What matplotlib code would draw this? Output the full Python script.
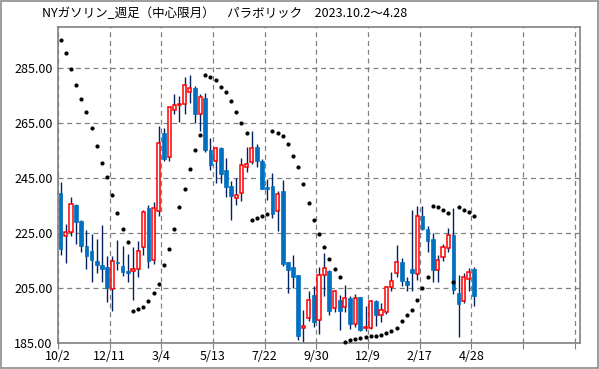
import numpy as np
import matplotlib
matplotlib.use("Agg")
import matplotlib.pyplot as plt
from matplotlib.patches import Rectangle

plt.rcParams['font.family'] = ['Noto Sans CJK JP', 'DejaVu Sans']

title = "NYガソリン_週足（中心限月）　パラボリック　2023.10.2～4.28"

# weekly OHLC
opens = [239.5, 223.9, 225.4, 235.3, 229.5, 220.4, 218.6, 214.9, 213.5, 212.6,
         204.6, 214.6, 213.1, 211.1, 211.1, 212.0, 219.9, 234.2, 215.2, 233.2,
         261.6, 252.6, 269.7, 271.5, 271.9, 276.3, 277.8, 268.3, 274.1, 255.3,
         251.1, 255.9, 247.9, 242.2, 237.7, 239.5, 249.0, 250.8, 256.4, 251.3,
         241.8, 242.1, 232.9, 240.2, 214.3, 212.8, 209.6, 190.5, 194.1, 202.3,
         193.2, 209.6, 211.3, 197.7, 200.8, 198.1, 201.4, 191.9, 201.6, 190.3,
         190.5, 200.2, 195.1, 196.3, 205.4, 210.5, 214.5, 207.7, 211.9, 210.1,
         231.1, 226.5, 222.8, 211.5, 216.3, 219.5, 224.4, 203.2, 200.2, 208.3,
         211.9]
highs = [243.5, 228.3, 238.1, 235.7, 229.7, 226.1, 224.6, 222.8, 228.0, 216.8,
         216.8, 222.6, 220.4, 217.4, 220.0, 222.2, 233.5, 235.3, 236.4, 263.8,
         263.4, 270.8, 275.5, 274.8, 281.8, 282.6, 278.5, 275.5, 275.9, 259.5,
         256.5, 256.5, 252.5, 244.0, 245.0, 252.3, 256.3, 262.2, 257.5, 251.9,
         244.6, 246.8, 240.2, 244.4, 214.5, 217.1, 209.8, 197.0, 203.8, 205.6,
         212.6, 217.7, 211.7, 204.2, 202.6, 206.2, 202.0, 202.8, 201.8, 198.3,
         200.8, 200.5, 199.4, 205.6, 210.7, 220.5, 215.9, 209.2, 233.5, 234.9,
         234.9, 227.7, 225.0, 216.9, 221.1, 226.8, 234.3, 209.6, 210.5, 212.3,
         212.5]
lows = [217.1, 214.0, 223.8, 221.1, 218.0, 212.0, 207.1, 210.5, 207.1, 199.9,
        196.8, 211.4, 209.5, 207.3, 200.5, 209.0, 217.1, 212.3, 213.7, 231.4,
        251.1, 251.1, 268.4, 265.6, 268.3, 272.3, 265.2, 262.3, 254.5, 248.0,
        243.2, 243.2, 238.3, 229.8, 235.3, 236.8, 247.1, 250.0, 248.9, 241.0,
        236.9, 230.5, 225.6, 213.2, 203.2, 205.0, 186.2, 185.4, 193.0, 190.7,
        188.3, 202.0, 195.1, 196.3, 189.8, 196.3, 190.2, 190.7, 189.5, 189.5,
        190.2, 191.1, 192.6, 195.5, 203.8, 208.9, 205.6, 203.8, 203.8, 207.8,
        226.0, 218.0, 207.2, 207.2, 215.0, 218.1, 203.0, 187.2, 199.5, 203.8,
        198.3]
closes = [219.2, 225.4, 235.5, 229.2, 220.2, 216.5, 215.3, 213.5, 212.0, 205.0,
          214.8, 214.0, 210.7, 210.3, 211.9, 218.3, 232.6, 214.7, 234.2, 257.7,
          252.0, 270.8, 271.5, 271.9, 278.8, 277.7, 268.3, 274.5, 255.3, 249.8,
          255.9, 246.6, 241.6, 238.4, 238.7, 249.7, 250.1, 255.9, 251.4, 241.2,
          241.2, 231.8, 239.2, 213.8, 211.7, 209.2, 187.4, 191.1, 200.8, 192.5,
          209.8, 212.3, 196.5, 204.0, 196.5, 201.4, 192.0, 201.4, 189.8, 190.9,
          200.4, 195.1, 197.1, 205.4, 207.7, 214.5, 207.4, 206.0, 210.5, 231.4,
          226.5, 222.0, 211.4, 215.2, 219.8, 224.3, 204.4, 199.2, 209.0, 210.8,
          202.0]
# parabolic SAR
sar = [295.1, 290.5, 284.6, 278.8, 273.7, 269.0, 263.2, 256.6, 250.6, 245.4,
       238.8, 232.3, 226.5, 221.7, 196.8, 197.5, 198.1, 200.3, 203.2, 206.6,
       213.5, 219.2, 226.6, 234.5, 241.0, 248.3, 255.1, 260.8, 282.5, 281.7,
       280.8, 278.1, 276.2, 272.9, 268.9, 265.0, 261.4, 229.6, 230.5, 231.1,
       231.9, 262.0, 261.4, 260.4, 257.4, 252.9, 249.0, 242.8, 235.9, 229.8,
       224.6, 219.9, 215.5, 211.9, 209.0, 185.4, 186.2, 186.6, 186.8, 187.1,
       187.4, 187.7, 188.0, 188.6, 189.5, 190.5, 193.1, 195.3, 197.1, 200.8,
       205.0, 209.0, 234.9, 234.5, 233.5, 232.3, 207.2, 234.5, 233.5, 232.6,
       231.4]
tick_labels = ["10/2", "12/11", "3/4", "5/13", "7/22", "9/30", "12/9", "2/17", "4/28", "", ""]

o = np.array(opens)
h = np.array(highs)
l = np.array(lows)
c = np.array(closes)
x = np.arange(len(o)) + 0.5
up = c >= o

fig = plt.figure(figsize=(5.99, 3.69), dpi=100)
fig.patches.append(Rectangle((0.0015, 0.002), 0.997, 0.995, transform=fig.transFigure,
                             fill=False, edgecolor='#8c8c8c', linewidth=1.2))
ax = fig.add_axes([58 / 599, 1 - 343 / 369, 522 / 599, 316 / 369])

ax.vlines(x, l, h, color='#002060', linewidth=1.0, zorder=2)
body = np.maximum(np.abs(c - o), 0.35)
bottom = np.minimum(o, c)
ax.bar(x[~up], body[~up], bottom=bottom[~up], width=0.72,
       color='#0070C0', edgecolor='#0070C0', linewidth=0.5, zorder=3)
ax.bar(x[up], body[up], bottom=bottom[up], width=0.62,
       color='white', edgecolor='#FF0000', linewidth=1.1, zorder=3)
ax.plot(x, sar, 'o', color='black', markersize=2.0, zorder=4, clip_on=False)

ax.set_xlim(0, 101)
ax.set_ylim(185, 300)
ax.set_xticks(np.arange(0, 101, 10))
ax.set_xticklabels(tick_labels)
ax.set_yticks([185, 205, 225, 245, 265, 285])
ax.yaxis.set_major_formatter(matplotlib.ticker.FormatStrFormatter('%.2f'))
ax.tick_params(axis='y', length=0, pad=4, labelsize=9)
ax.tick_params(axis='x', length=4, color='#808080', pad=1, labelsize=9)
ax.grid(True, color='#808080', linestyle=(0, (4, 3)), linewidth=0.9)
ax.set_axisbelow(True)
for s in ax.spines.values():
    s.set_color('#808080')
    s.set_linewidth(1.2)

fig.text(42 / 599, 1 - 14 / 369, title, fontsize=9, va='center', ha='left')

fig.savefig("out.png", dpi=100)
